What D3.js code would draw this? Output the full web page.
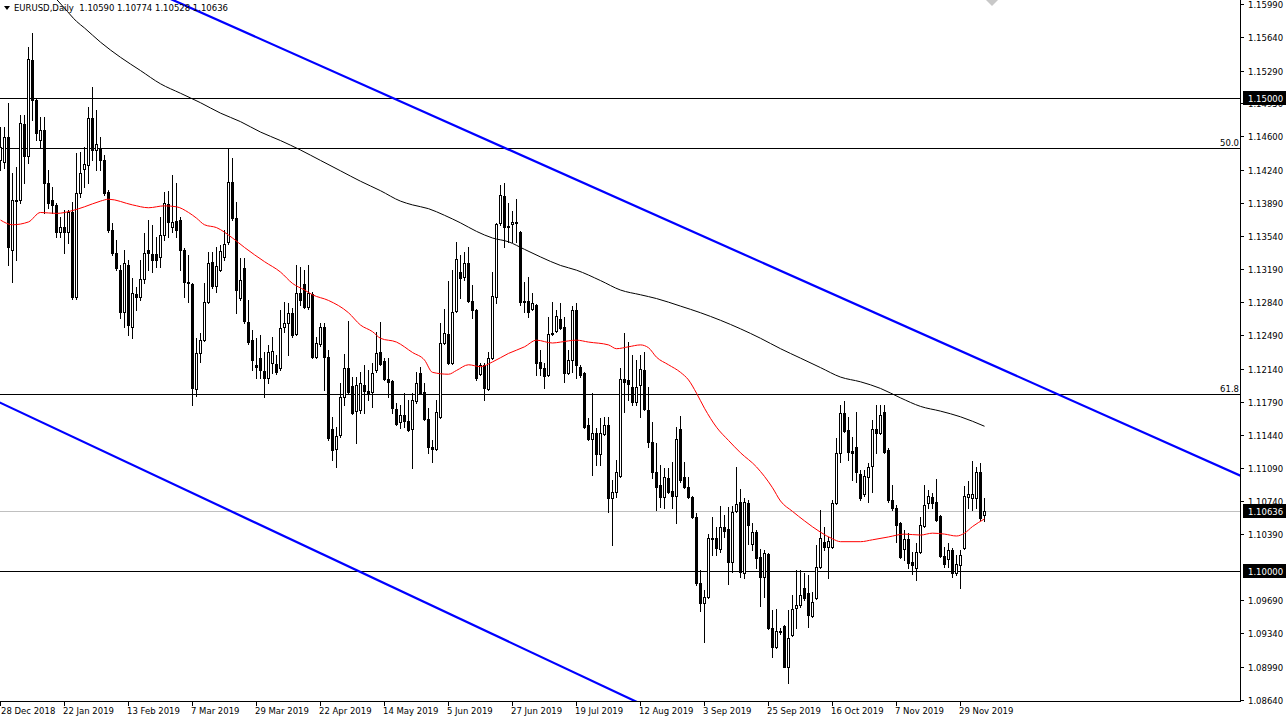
<!DOCTYPE html>
<html><head><meta charset="utf-8">
<script src="https://cdn.jsdelivr.net/npm/d3@7"></script>
<style>body{margin:0;background:#fff}svg{display:block}text{font-family:"DejaVu Sans",sans-serif;font-size:8.5px}</style>
</head><body><svg id="c" width="1286" height="721"></svg>
<script>
const openP=[1.1434,1.1432,1.1459,1.1339,1.1392,1.1392,1.1472,1.1439,1.1540,1.1498,1.1456,1.1466,1.1410,1.1392,1.1387,1.1358,1.1364,1.1358,1.1379,1.1290,
1.1400,1.1425,1.1429,1.1479,1.1445,1.1447,1.1434,1.1401,1.1360,1.1336,1.1318,1.1274,1.1323,1.1258,1.1293,1.1290,1.1309,1.1339,1.1335,1.1335,
1.1332,1.1355,1.1388,1.1364,1.1370,1.1371,1.1339,1.1305,1.1303,1.1192,1.1230,1.1244,1.1284,1.1327,1.1301,1.1318,1.1332,1.1348,1.1411,1.1373,
1.1289,1.1320,1.1263,1.1244,1.1218,1.1225,1.1211,1.1204,1.1220,1.1219,1.1215,1.1258,1.1262,1.1273,1.1251,1.1294,1.1303,1.1279,1.1293,1.1226,
1.1240,1.1258,1.1226,1.1150,1.1129,1.1144,1.1184,1.1215,1.1196,1.1169,1.1170,1.1197,1.1190,1.1189,1.1212,1.1231,1.1222,1.1203,1.1201,1.1171,
1.1157,1.1165,1.1159,1.1150,1.1180,1.1209,1.1189,1.1161,1.1131,1.1129,1.1163,1.1241,1.1251,1.1220,1.1275,1.1316,1.1311,1.1326,1.1285,1.1276,
1.1208,1.1218,1.1192,1.1225,1.1290,1.1368,1.1396,1.1365,1.1367,1.1369,1.1358,1.1285,1.1285,1.1277,1.1281,1.1221,1.1215,1.1207,1.1252,1.1254,
1.1266,1.1258,1.1209,1.1223,1.1276,1.1216,1.1209,1.1154,1.1140,1.1146,1.1124,1.1145,1.1154,1.1077,1.1084,1.1100,1.1203,1.1202,1.1194,1.1179,
1.1197,1.1212,1.1170,1.1136,1.1105,1.1091,1.1078,1.1098,1.1085,1.1079,1.1150,1.1099,1.1089,1.1078,1.1057,1.0987,1.0966,1.0973,1.1035,1.1035,
1.1023,1.1047,1.1044,1.1010,1.1063,1.1073,1.0998,1.1072,1.1029,1.1041,1.1015,1.0994,1.1018,1.0940,1.0920,1.0937,1.0942,1.0899,1.0932,1.0961,
1.0964,1.0982,1.0977,1.0952,1.0971,1.1004,1.1031,1.1025,1.1025,1.1072,1.1125,1.1167,1.1149,1.1127,1.1131,1.1103,1.1081,1.1099,1.1111,1.1150,
1.1146,1.1168,1.1128,1.1075,1.1067,1.1051,1.1023,1.1034,1.1010,1.1003,1.1020,1.1048,1.1072,1.1078,1.1073,1.1058,1.1016,1.1013,1.1022,1.0998,
1.1006,1.1024,1.1078,1.1077,1.1077,1.1105,1.10590];
const highP=[1.1469,1.1469,1.1495,1.1421,1.1427,1.1482,1.1482,1.1554,1.1569,1.1500,1.1480,1.1480,1.1424,1.1406,1.1389,1.1374,1.1382,1.1382,1.1390,1.1442,
1.1443,1.1448,1.1490,1.1512,1.1487,1.1459,1.1440,1.1403,1.1368,1.1350,1.1323,1.1339,1.1329,1.1310,1.1300,1.1329,1.1357,1.1371,1.1366,1.1353,
1.1374,1.1401,1.1402,1.1419,1.1410,1.1374,1.1341,1.1334,1.1304,1.1246,1.1252,1.1304,1.1337,1.1337,1.1342,1.1345,1.1360,1.1447,1.1437,1.1390,
1.1331,1.1331,1.1286,1.1255,1.1246,1.1249,1.1231,1.1239,1.1247,1.1228,1.1276,1.1284,1.1283,1.1278,1.1323,1.1321,1.1318,1.1323,1.1295,1.1247,
1.1262,1.1262,1.1234,1.1163,1.1152,1.1199,1.1229,1.1264,1.1205,1.1205,1.1210,1.1218,1.1212,1.1220,1.1253,1.1263,1.1225,1.1225,1.1202,1.1178,
1.1175,1.1188,1.1181,1.1188,1.1210,1.1216,1.1199,1.1172,1.1138,1.1181,1.1262,1.1277,1.1307,1.1318,1.1348,1.1334,1.1337,1.1342,1.1302,1.1277,
1.1220,1.1220,1.1231,1.1316,1.1368,1.1408,1.1410,1.1389,1.1381,1.1393,1.1359,1.1305,1.1311,1.1294,1.1282,1.1234,1.1220,1.1268,1.1284,1.1276,
1.1283,1.1268,1.1234,1.1280,1.1283,1.1218,1.1210,1.1162,1.1188,1.1151,1.1162,1.1163,1.1163,1.1096,1.1117,1.1215,1.1252,1.1242,1.1228,1.1223,
1.1228,1.1231,1.1194,1.1157,1.1135,1.1112,1.1109,1.1109,1.1115,1.1152,1.1164,1.1115,1.1099,1.1079,1.1061,1.1001,1.0980,1.1039,1.1057,1.1047,
1.1069,1.1059,1.1068,1.1069,1.1110,1.1087,1.1077,1.1075,1.1051,1.1043,1.1023,1.1022,1.1019,1.0959,1.0960,1.0940,1.0943,1.0959,1.0975,1.1001,
1.1001,1.0998,1.0996,1.0978,1.1027,1.1064,1.1047,1.1036,1.1075,1.1141,1.1175,1.1180,1.1163,1.1142,1.1168,1.1107,1.1107,1.1114,1.1160,1.1175,
1.1175,1.1175,1.1130,1.1091,1.1070,1.1052,1.1043,1.1040,1.1020,1.1030,1.1057,1.1091,1.1086,1.1082,1.1097,1.1059,1.1025,1.1030,1.1024,1.1017,
1.1022,1.1090,1.1095,1.1116,1.1110,1.1114,1.10774];
const lowP=[1.1424,1.1426,1.1323,1.1305,1.1329,1.1389,1.1410,1.1431,1.1477,1.1456,1.1448,1.1378,1.1384,1.1378,1.1353,1.1353,1.1336,1.1347,1.1288,1.1288,
1.1395,1.1406,1.1410,1.1434,1.1424,1.1424,1.1397,1.1358,1.1334,1.1318,1.1267,1.1258,1.1249,1.1246,1.1276,1.1286,1.1304,1.1318,1.1316,1.1321,
1.1321,1.1350,1.1353,1.1358,1.1353,1.1318,1.1290,1.1284,1.1175,1.1185,1.1221,1.1243,1.1283,1.1299,1.1295,1.1317,1.1329,1.1346,1.1371,1.1273,
1.1286,1.1262,1.1240,1.1212,1.1204,1.1204,1.1184,1.1199,1.1209,1.1208,1.1212,1.1253,1.1228,1.1247,1.1249,1.1281,1.1278,1.1277,1.1225,1.1225,
1.1238,1.1191,1.1138,1.1117,1.1110,1.1142,1.1175,1.1188,1.1166,1.1135,1.1167,1.1167,1.1181,1.1173,1.1210,1.1218,1.1202,1.1184,1.1167,1.1154,
1.1151,1.1152,1.1148,1.1109,1.1178,1.1187,1.1160,1.1125,1.1115,1.1128,1.1162,1.1240,1.1219,1.1219,1.1274,1.1289,1.1308,1.1284,1.1267,1.1202,
1.1207,1.1181,1.1191,1.1224,1.1283,1.1366,1.1342,1.1348,1.1348,1.1348,1.1281,1.1274,1.1268,1.1276,1.1207,1.1207,1.1193,1.1206,1.1249,1.1253,
1.1256,1.1200,1.1208,1.1210,1.1204,1.1205,1.1151,1.1138,1.1101,1.1112,1.1112,1.1144,1.1062,1.1027,1.1078,1.1099,1.1168,1.1181,1.1175,1.1175,
1.1163,1.1170,1.1131,1.1098,1.1064,1.1068,1.1067,1.1082,1.1067,1.1051,1.1094,1.1088,1.1077,1.1056,1.0985,1.0958,1.0925,1.0971,1.1017,1.1017,
1.1020,1.1036,1.0986,1.0999,1.1062,1.0994,1.0993,1.1029,1.1022,1.1003,1.0963,1.0973,1.0939,1.0909,1.0919,1.0933,1.0898,1.0882,1.0931,1.0940,
1.0962,1.0969,1.0941,1.0951,1.0970,1.1003,1.1022,1.0993,1.1024,1.1071,1.1115,1.1147,1.1117,1.1096,1.1094,1.1075,1.1079,1.1073,1.1084,1.1125,
1.1145,1.1125,1.1073,1.1064,1.1031,1.1014,1.1012,1.1003,1.0997,1.0990,1.1019,1.1047,1.1067,1.1067,1.1053,1.1015,1.1004,1.1004,1.0994,1.0996,
1.0982,1.1023,1.1067,1.1064,1.1067,1.1054,1.10528];
const closeP=[1.1448,1.1459,1.1342,1.1392,1.1391,1.1474,1.1439,1.1541,1.1498,1.1463,1.1466,1.1410,1.1389,1.1387,1.1358,1.1364,1.1358,1.1379,1.1290,1.1400,
1.1421,1.1430,1.1479,1.1445,1.1451,1.1434,1.1400,1.1360,1.1336,1.1320,1.1274,1.1326,1.1260,1.1294,1.1290,1.1309,1.1336,1.1336,1.1329,1.1329,
1.1355,1.1389,1.1369,1.1369,1.1360,1.1339,1.1305,1.1304,1.1193,1.1230,1.1244,1.1284,1.1326,1.1301,1.1322,1.1338,1.1346,1.1411,1.1373,1.1297,
1.1308,1.1264,1.1242,1.1223,1.1216,1.1212,1.1204,1.1231,1.1233,1.1210,1.1257,1.1262,1.1273,1.1249,1.1294,1.1286,1.1279,1.1294,1.1226,1.1241,
1.1258,1.1226,1.1141,1.1128,1.1143,1.1184,1.1215,1.1189,1.1167,1.1197,1.1199,1.1190,1.1187,1.1209,1.1230,1.1219,1.1203,1.1200,1.1172,1.1155,
1.1165,1.1159,1.1149,1.1181,1.1199,1.1188,1.1161,1.1131,1.1129,1.1168,1.1241,1.1252,1.1220,1.1274,1.1330,1.1310,1.1326,1.1285,1.1276,1.1204,
1.1218,1.1193,1.1225,1.1291,1.1367,1.1397,1.1364,1.1364,1.1369,1.1368,1.1284,1.1284,1.1274,1.1283,1.1220,1.1215,1.1206,1.1251,1.1251,1.1270,
1.1257,1.1209,1.1223,1.1276,1.1218,1.1207,1.1152,1.1140,1.1146,1.1124,1.1146,1.1154,1.1077,1.1084,1.1105,1.1203,1.1200,1.1198,1.1179,1.1194,
1.1214,1.1171,1.1136,1.1105,1.1089,1.1078,1.1099,1.1084,1.1079,1.1140,1.1096,1.1089,1.1078,1.1057,1.0987,1.0966,1.0973,1.1035,1.1034,1.1024,
1.1047,1.1042,1.1010,1.1062,1.1071,1.0999,1.1073,1.1049,1.1041,1.1014,1.0994,1.1019,1.0940,1.0920,1.0937,1.0936,1.0899,1.0929,1.0960,1.0964,
1.0975,1.0971,1.0953,1.0967,1.1004,1.1035,1.1025,1.1032,1.1072,1.1125,1.1167,1.1148,1.1126,1.1125,1.1105,1.1077,1.1100,1.1110,1.1150,1.1146,
1.1165,1.1126,1.1075,1.1067,1.1049,1.1015,1.1034,1.1008,1.1006,1.1020,1.1049,1.1070,1.1079,1.1072,1.1054,1.1016,1.1007,1.1022,1.0998,1.1007,
1.1017,1.1079,1.1081,1.1081,1.1105,1.1056,1.10636];

// moving averages (bar index, price)
const redMaIdx=[0,3,7,10,14,18,21,25,27,33,37,41,44,47,49,51,54,58,61,66,70,73,76,78,82,87,90,93,95,99,103,106,108,112,114,117,120,123,127,131,134,138,140,144,147,152,154,157,160,162,164,167,170,172,174,176,179,182,185,189,193,195,198,201,205,208,210,215,218,222,226,230,233,236,239,241,243,246];
const redMaVal=[1.1371,1.1366,1.1369,1.1379,1.1378,1.1381,1.1385,1.1391,1.1393,1.1387,1.1384,1.1386,1.1385,1.1379,1.1373,1.1366,1.1363,1.1352,1.1342,1.1327,1.1316,1.1304,1.1297,1.1292,1.1286,1.1273,1.1260,1.1253,1.1246,1.1242,1.1231,1.1223,1.1210,1.1208,1.1212,1.1218,1.1216,1.1221,1.1230,1.1237,1.1244,1.1241,1.1242,1.1244,1.1242,1.1239,1.1235,1.1237,1.1239,1.1236,1.1226,1.1218,1.1210,1.1202,1.1188,1.1172,1.1152,1.1138,1.1125,1.1110,1.1088,1.1074,1.1063,1.1053,1.1041,1.1034,1.1031,1.1031,1.1033,1.1036,1.1039,1.1038,1.1040,1.1039,1.1037,1.1040,1.1047,1.1055];
const blackMaIdx=[13,16,19,21,25,30,35,40,45,50,55,60,65,70,75,80,85,90,95,100,103,107,111,115,119,123,127,131,135,140,144,150,155,160,164,170,175,180,185,190,195,200,205,210,215,220,225,230,235,240,246];
const blackMaVal=[1.1609,1.1595,1.1581,1.1574,1.1559,1.1543,1.1529,1.1515,1.1505,1.1495,1.1484,1.1475,1.1464,1.1455,1.1445,1.1434,1.1423,1.1412,1.1402,1.1391,1.1387,1.1383,1.1376,1.1368,1.1359,1.1352,1.1348,1.1340,1.1332,1.1323,1.1318,1.1307,1.1297,1.1292,1.1288,1.1280,1.1273,1.1265,1.1256,1.1246,1.1235,1.1225,1.1215,1.1205,1.1200,1.1193,1.1183,1.1174,1.1169,1.1163,1.1153];

// channel lines (bar index, price anchors)
const upperIdx=[43,310], upperVal=[1.1604,1.1101];
const lowerIdx=[0,158], lowerVal=[1.1178,1.0864];

const levelVals=[1.15000,1.14471,1.11871,1.10000];
const levelTags=["","50.0","61.8",""];
const boxVals=[1.15000,1.10000,1.10636];
const lastPrice=1.10636;

const priceTicks=[1.15990,1.15640,1.15290,1.14950,1.14600,1.14240,1.13890,1.13540,1.13190,1.12840,1.12490,1.12140,1.11790,1.11440,1.11090,1.10740,1.10390,1.09690,1.09340,1.08990,1.08640];
const dateLabels=["28 Dec 2018","22 Jan 2019","13 Feb 2019","7 Mar 2019","29 Mar 2019","22 Apr 2019","14 May 2019","5 Jun 2019","27 Jun 2019","19 Jul 2019","12 Aug 2019","3 Sep 2019","25 Sep 2019","16 Oct 2019","7 Nov 2019","29 Nov 2019"];
const dateIdx=[0,16,32,48,64,80,96,112,128,144,160,176,192,208,224,240];
const titleText="EURUSD,Daily  1.10590 1.10774 1.10528 1.10636";

const PW=1240, PH=701;
const svg=d3.select("#c");
const x=d3.scaleLinear().domain([0,310]).range([0,1240]);
const y=d3.scaleLinear().domain([1.10,1.15]).range([571,98]);
const px=v=>Math.round(v);

svg.append("defs").append("clipPath").attr("id","clip").append("rect").attr("x",0).attr("y",0).attr("width",PW).attr("height",PH);
const g=svg.append("g").attr("clip-path","url(#clip)");

// current price line
g.append("line").attr("x1",0).attr("x2",PW).attr("y1",px(y(lastPrice))+0.5).attr("y2",px(y(lastPrice))+0.5).attr("stroke","#c0c0c0").attr("stroke-width",1);
// levels
levelVals.forEach((v,k)=>{
  const yy=px(y(v))+0.5;
  g.append("line").attr("x1",0).attr("x2",PW).attr("y1",yy).attr("y2",yy).attr("stroke","#000").attr("stroke-width",1);
  if(levelTags[k]) svg.append("text").attr("x",PW-1).attr("y",yy-3).attr("text-anchor","end").text(levelTags[k]);
});

// candles
const bars=d3.range(openP.length).map(i=>({i,o:openP[i],h:highP[i],l:lowP[i],c:closeP[i]}));
const cg=g.append("g");
bars.forEach(b=>{
  const cx=px(x(b.i));
  cg.append("line").attr("x1",cx+0.5).attr("x2",cx+0.5).attr("y1",px(y(b.h))).attr("y2",px(y(b.l))+1).attr("stroke","#000").attr("stroke-width",1);
  const top=px(y(Math.max(b.o,b.c))), bot=px(y(Math.min(b.o,b.c)));
  if(b.c>b.o){
    cg.append("rect").attr("x",cx-0.5).attr("y",top+0.5).attr("width",2).attr("height",Math.max(1,bot-top)).attr("fill","#fff").attr("stroke","#000").attr("stroke-width",1);
  } else {
    cg.append("rect").attr("x",cx-1).attr("y",top).attr("width",3).attr("height",Math.max(1,bot-top+1)).attr("fill","#000");
  }
});

// moving averages
const lineGen=d3.line().x(d=>x(d[0])+0.5).y(d=>y(d[1])).curve(d3.curveMonotoneX);
g.append("path").attr("d",lineGen(blackMaIdx.map((v,k)=>[v,blackMaVal[k]]))).attr("fill","none").attr("stroke","#000").attr("stroke-width",1);
g.append("path").attr("d",lineGen(redMaIdx.map((v,k)=>[v,redMaVal[k]]))).attr("fill","none").attr("stroke","#ff0000").attr("stroke-width",1);

// channel
function ext(idx,val){
  const s=(val[1]-val[0])/(idx[1]-idx[0]);
  const a=-20,b=330;
  return [[x(a),y(val[0]+s*(a-idx[0]))],[x(b),y(val[0]+s*(b-idx[0]))]];
}
[[upperIdx,upperVal],[lowerIdx,lowerVal]].forEach(([ix,vv])=>{
  const p=ext(ix,vv);
  g.append("line").attr("x1",p[0][0]).attr("y1",p[0][1]).attr("x2",p[1][0]).attr("y2",p[1][1]).attr("stroke","#0000ff").attr("stroke-width",2.2);
});

// frame
svg.append("line").attr("x1",PW+0.5).attr("x2",PW+0.5).attr("y1",0).attr("y2",PH+1).attr("stroke","#000");
svg.append("line").attr("x1",0).attr("x2",PW+1).attr("y1",PH+0.5).attr("y2",PH+0.5).attr("stroke","#000");

// price axis
priceTicks.forEach(v=>{
  const yy=px(y(v))+0.5;
  svg.append("line").attr("x1",PW).attr("x2",PW+4).attr("y1",yy).attr("y2",yy).attr("stroke","#000");
  svg.append("text").attr("x",PW+8).attr("y",yy+3).text(v.toFixed(5));
});
boxVals.forEach(v=>{
  const yy=px(y(v));
  svg.append("rect").attr("x",PW+3).attr("y",yy-7).attr("width",43).attr("height",14).attr("fill","#000");
  svg.append("text").attr("x",PW+8).attr("y",yy+3.5).attr("fill","#fff").text(v.toFixed(5));
});

// time axis
dateIdx.forEach((ix,k)=>{
  const xx=px(x(ix));
  svg.append("line").attr("x1",xx+0.5).attr("x2",xx+0.5).attr("y1",PH).attr("y2",PH+5).attr("stroke","#000");
  svg.append("text").attr("x",Math.max(1,xx-1)).attr("y",714).text(dateLabels[k]);
});

// title
svg.append("path").attr("d","M4,6 L10,6 L7,10 Z").attr("fill","#000");
svg.append("text").attr("x",14).attr("y",11).attr("xml:space","preserve").style("white-space","pre").text(titleText);
// chart shift marker
svg.append("path").attr("d","M986,0 L998,0 L992,6 Z").attr("fill","#c8c8c8");
</script></body></html>
